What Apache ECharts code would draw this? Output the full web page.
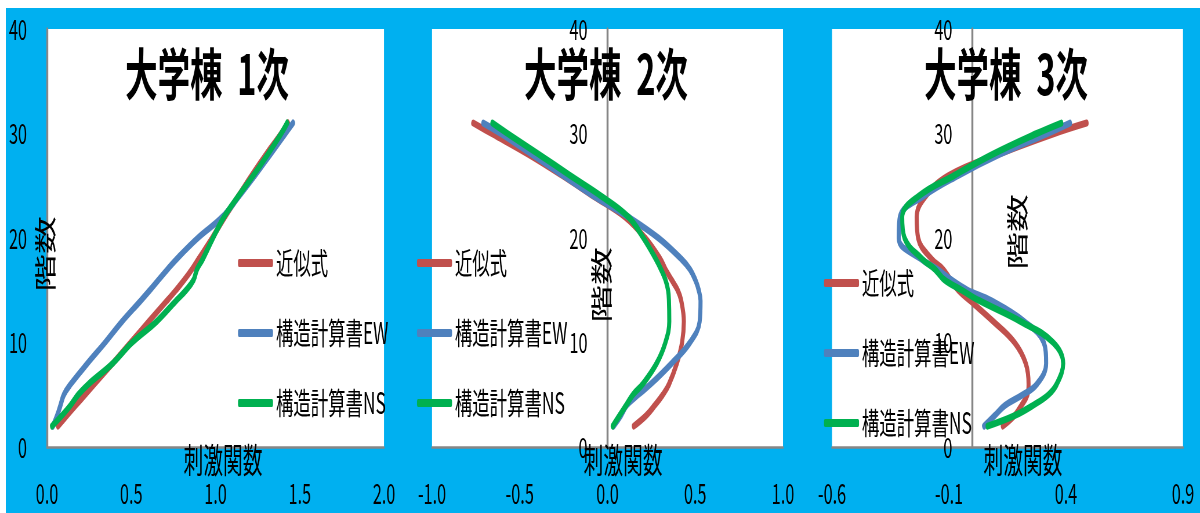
<!DOCTYPE html>
<html><head><meta charset="utf-8">
<script src="https://cdn.jsdelivr.net/npm/echarts@6/dist/echarts.min.js"></script>
<style>
html,body{margin:0;padding:0;background:#fff;overflow:hidden;width:1200px;height:513px;position:relative}
#bg{position:absolute;left:6px;top:8px;width:1194px;height:505px;background:#00B0F0}
#chart{position:absolute;left:0;top:0;height:513px;transform-origin:0 0}
</style></head><body><div id="bg"></div><div id="chart"></div>
<script>
// ---- data ----
const floors = [2,3,4,5,6,8,10,12,14,15,16,17,18,20,22,24,26,28,30,31];
const seriesNames = ['近似式','構造計算書EW','構造計算書NS'];
const titles = ['大学棟  1次','大学棟  2次','大学棟  3次'];
const xAxisName = '刺激関数';
const yAxisName = '階数';
const xMin = [0, -1, -0.6];
const xMax = [2, 1, 0.9];
const xInterval = [0.5, 0.5, 0.5];
const yMin = 0, yMax = 40, yInterval = 10;

const p1Approx = [0.065,0.118,0.172,0.226,0.28,0.39,0.497,0.603,0.712,0.765,0.815,0.86,0.90,0.98,1.055,1.135,1.215,1.30,1.39,1.43];
const p1EW     = [0.035,0.06,0.08,0.10,0.14,0.24,0.345,0.445,0.556,0.61,0.662,0.715,0.77,0.895,1.04,1.14,1.235,1.325,1.415,1.46];
const p1NS     = [0.03,0.088,0.14,0.185,0.245,0.39,0.505,0.65,0.766,0.825,0.87,0.89,0.925,0.985,1.05,1.135,1.225,1.31,1.39,1.425];

const p2Approx = [0.15,0.22,0.27,0.315,0.35,0.395,0.425,0.435,0.42,0.40,0.365,0.33,0.30,0.215,0.10,-0.08,-0.26,-0.45,-0.66,-0.765];
const p2EW     = [0.035,0.076,0.11,0.175,0.245,0.365,0.47,0.525,0.53,0.52,0.50,0.47,0.42,0.29,0.12,-0.077,-0.255,-0.43,-0.608,-0.708];
const p2NS     = [0.03,0.068,0.107,0.145,0.20,0.28,0.33,0.352,0.35,0.345,0.33,0.305,0.275,0.205,0.12,-0.035,-0.215,-0.39,-0.57,-0.656];

const p3Approx = [0.13,0.18,0.21,0.235,0.24,0.228,0.18,0.09,-0.01,-0.06,-0.094,-0.125,-0.175,-0.232,-0.238,-0.20,-0.10,0.11,0.35,0.488];
const p3EW     = [0.05,0.095,0.14,0.215,0.275,0.315,0.305,0.222,0.08,-0.02,-0.09,-0.15,-0.22,-0.315,-0.31,-0.21,-0.06,0.115,0.32,0.417];
const p3NS     = [0.065,0.18,0.26,0.325,0.36,0.388,0.345,0.207,0.03,-0.045,-0.12,-0.16,-0.215,-0.29,-0.30,-0.23,-0.077,0.086,0.275,0.38];

const panelData = [[p1Approx,p1EW,p1NS],[p2Approx,p2EW,p2NS],[p3Approx,p3EW,p3NS]];
const colors = ['#C0504D','#4F81BD','#00B050'];

// ---- layout (screen px; the chart is drawn wide and squeezed horizontally like the original) ----
let W = Math.round(1200/0.58);
const S = 1200 / W;
const X = x => x / S;
const el = document.getElementById('chart');
el.style.width = W + 'px';
el.style.transform = 'scaleX(' + S + ')';

const plotL = [47, 432, 832], plotR = [384, 783, 1183], plotT = 29, plotB = 447;
const titleX = [207, 606, 1006];
const legendL = [238, 417, 824], legendT = [248, 248, 268];
const xNameX = [223, 623, 1023], xNameY = 460;
const yNamePos = [[45,254],[601,285],[1017,232]];
const FONT = '"Noto Sans CJK JP","Noto Sans",sans-serif';

const chart = echarts.init(el, null, {renderer:'canvas', width: W, height: 513});

// y axis sits where x = 0 on each panel
const yAxisOffset = [0,1,2].map(i => -(0 - xMin[i]) / (xMax[i] - xMin[i]) * (X(plotR[i]) - X(plotL[i])));

const option = {
  animation: false,
  backgroundColor: 'transparent',
  title: titles.map((t,i)=>({
    text: t, left: X(titleX[i]), top: 46, textAlign: 'center', padding: 0,
    textStyle: {fontSize: 56, fontWeight: 'bold', color: '#000', fontFamily: FONT, lineHeight: 56}
  })),
  grid: [0,1,2].map(i=>({
    left: X(plotL[i]), top: plotT, width: X(plotR[i]) - X(plotL[i]), height: plotB - plotT,
    show: true, backgroundColor: '#fff', borderWidth: 0
  })),
  xAxis: [0,1,2].map(i=>({
    type: 'value', gridIndex: i, min: xMin[i], max: xMax[i], interval: xInterval[i],
    axisLine: {show: true, onZero: false, lineStyle: {color: '#868686', width: 2.5}},
    axisTick: {show: false}, splitLine: {show: false},
    axisLabel: {margin: 32, fontSize: 28, color: '#000', fontFamily: FONT,
      formatter: v => (Math.abs(v) < 1e-9 ? 0 : v).toFixed(1)}
  })),
  yAxis: [0,1,2].map(i=>({
    type: 'value', gridIndex: i, min: yMin, max: yMax, interval: yInterval,
    position: 'left', offset: yAxisOffset[i],
    axisLine: {show: true, onZero: false, lineStyle: {color: '#868686', width: 3.4}},
    axisTick: {show: false}, splitLine: {show: false},
    axisLabel: {margin: X(20), fontSize: 28, color: '#000', fontFamily: FONT}
  })),
  legend: [0,1,2].map(i=>({
    data: seriesNames, orient: 'vertical', left: X(legendL[i]), top: legendT[i],
    itemWidth: X(35), itemHeight: 8, itemGap: 40, icon: 'roundRect', padding: 0,
    selectedMode: false,
    textStyle: {fontSize: 30, color: '#000', fontFamily: FONT, lineHeight: 30}
  })),
  graphic: [].concat(
    [0,1,2].map(i=>({
      type: 'text', x: X(xNameX[i]), y: xNameY, silent: true, z: 100,
      style: {text: xAxisName, fontSize: 34, fill: '#000', fontFamily: FONT, align: 'center', verticalAlign: 'middle'}
    })),
    [0,1,2].map(i=>({
      type: 'text', x: X(yNamePos[i][0]), y: yNamePos[i][1], rotation: Math.PI/2, silent: true, z: 100,
      style: {text: yAxisName, fontSize: 38, fill: '#000', fontFamily: FONT, align: 'center', verticalAlign: 'middle'}
    }))
  ),
  series: []
};

[0,1,2].forEach(i=>{
  panelData[i].forEach((xs, k)=>{
    option.series.push({
      type: 'line', name: seriesNames[k], xAxisIndex: i, yAxisIndex: i,
      data: xs.map((v, j)=>[v, floors[j]]),
      showSymbol: false, symbol: 'none', smooth: 0.4,
      lineStyle: {width: 7, color: colors[k], cap: 'round', join: 'round'},
      itemStyle: {color: colors[k]},
      z: 2 + k
    });
  });
});

chart.setOption(option);
</script></body></html>
